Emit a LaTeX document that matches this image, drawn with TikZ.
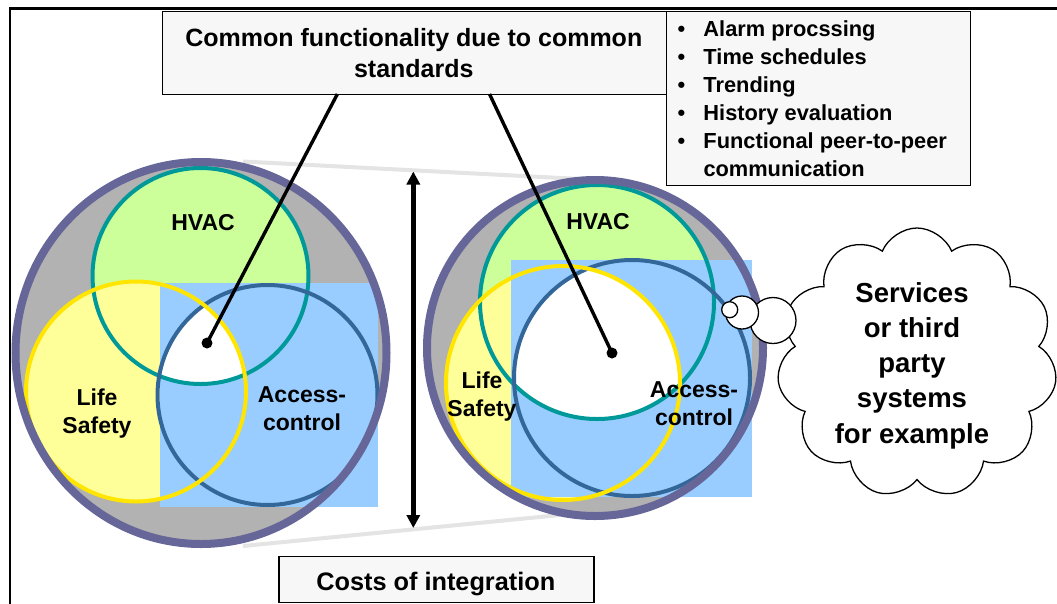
\documentclass[tikz,border=0pt]{standalone}
\usepackage{fontspec}
\setmainfont{Liberation Sans}
\usetikzlibrary{shapes.symbols,arrows.meta}

\definecolor{ringcol}{HTML}{666699}
\definecolor{shadecol}{HTML}{B2B2B2}
\definecolor{hvacline}{HTML}{009999}
\definecolor{hvacfill}{HTML}{CCFF99}
\definecolor{lifeline}{HTML}{FFE500}
\definecolor{lifefill}{HTML}{FFFF99}
\definecolor{accline}{HTML}{336699}
\definecolor{accfill}{HTML}{99CCFF}
\definecolor{boxfill}{HTML}{F7F7F7}
\definecolor{conecol}{HTML}{E4E4E4}

\begin{document}
\begin{tikzpicture}[x=1pt,y=-1pt,
  panel/.style={draw, line width=1.3pt, fill=boxfill, inner sep=0pt, anchor=north west},
  tag/.style={inner sep=0pt, anchor=base, align=center, font=\fontsize{23}{28.5}\selectfont\bfseries},
  pointer/.style={line width=3.4pt},
  dotmark/.style={circle, fill=black, minimum size=11pt, inner sep=0pt},
  ringline/.style={draw=ringcol, line width=8pt},
  setline/.style={line width=4pt},
  conex/.style={draw=conecol, line width=4pt},
  bubble/.style={circle, draw, fill=white, line width=1.3pt, inner sep=0pt}]
\useasboundingbox (0,0) rectangle (1057,603);

% frame
\draw[line width=2.6pt] (10,640) |- (1100,8.5);

% cone lines between the two set diagrams
\coordinate (coneTL) at (243,161.5);
\coordinate (coneTR) at (600,180);
\coordinate (coneBL) at (243,546);
\coordinate (coneBR) at (560,515);
\draw[conex] (coneTL) -- (coneTR);
\draw[conex] (coneBL) -- (coneBR);

% ---------- left set diagram ----------
\fill[shadecol] (201,353) ellipse [x radius=185.5, y radius=191];
\fill[hvacfill] (200.5,276) circle [radius=108];
\fill[lifefill] (136,391.5) circle [radius=110];
\fill[accfill] (160,283) rectangle (378,507);
\begin{scope}
  \clip (200.5,276) circle [radius=108];
  \clip (136,391.5) circle [radius=110];
  \fill[white] (267.5,395) circle [radius=110];
\end{scope}
\draw[setline, hvacline] (200.5,276) circle [radius=108];
\draw[setline, accline] (267.5,395) circle [radius=110];
\draw[setline, lifeline] (136,391.5) circle [radius=110];
\draw[ringline] (201,353) ellipse [x radius=185.5, y radius=191];

\node[tag] (hvacL) at (203,230) {HVAC};
\node[tag] (lifeL) at (97,405) {\begin{tabular}[t]{@{}c@{}}Life\\Safety\end{tabular}};
\node[tag] (accL) at (302,402) {\begin{tabular}[t]{@{}c@{}}Access-\\control\end{tabular}};

% ---------- right set diagram ----------
\fill[shadecol] (595,348) circle [radius=168];
\fill[hvacfill] (597,302) circle [radius=117];
\fill[lifefill] (563,383) circle [radius=117];
\fill[accfill] (511,260) rectangle (752,497);
\begin{scope}
  \clip (597,302) circle [radius=117];
  \clip (563,383) circle [radius=117];
  \fill[white] (632,378) circle [radius=118];
\end{scope}
\draw[setline, hvacline] (597,302) circle [radius=117];
\draw[setline, accline] (632,378) circle [radius=118];
\draw[setline, lifeline] (563,383) circle [radius=117];
\draw[ringline] (595,348) circle [radius=168];

\node[tag] (hvacR) at (598,229) {HVAC};
\node[tag] (lifeR) at (482,388) {\begin{tabular}[t]{@{}c@{}}Life\\Safety\end{tabular}};
\node[tag] (accR) at (694,397) {\begin{tabular}[t]{@{}c@{}}Access-\\control\end{tabular}};

% ---------- cost arrow ----------
\coordinate (costTop) at (413.3,171.5);
\coordinate (costBot) at (413.3,528);
\draw[line width=4.5pt, {Triangle[width=13pt,length=13pt]}-{Triangle[width=13pt,length=13pt]}] (costTop) -- (costBot);

% ---------- boxes ----------
\node[panel, minimum width=503.5pt, minimum height=83pt] (common) at (162,11) {};
\node[tag, font=\fontsize{25}{31.5}\selectfont\bfseries] (commonTxt) at (413.8,46.3)
  {\begin{tabular}[t]{@{}c@{}}Common functionality due to common\\standards\end{tabular}};

\node[panel, minimum width=304pt, minimum height=174pt] (features) at (666,11) {};
\node[inner sep=0pt, anchor=base west, font=\fontsize{21.8}{28}\selectfont\bfseries] (featTxt) at (677.5,36.7)
  {\begin{tabular}[t]{@{}l@{}l@{}}
   \makebox[25.8pt][l]{\textbullet} & Alarm procssing\\
   \makebox[25.8pt][l]{\textbullet} & Time schedules\\
   \makebox[25.8pt][l]{\textbullet} & Trending\\
   \makebox[25.8pt][l]{\textbullet} & History evaluation\\
   \makebox[25.8pt][l]{\textbullet} & Functional peer-to-peer\\
   & communication
   \end{tabular}};

\node[panel, minimum width=315pt, minimum height=46pt] (costs) at (278.3,555.7) {};
\node[tag, font=\fontsize{25.3}{30}\selectfont\bfseries] (costsTxt) at (435.8,590) {Costs of integration};

% ---------- pointers to the common core ----------
\node[dotmark] (coreL) at (207,343) {};
\node[dotmark] (coreR) at (612,353) {};
\coordinate (ptrL) at (337.4,94);
\coordinate (ptrR) at (489.5,94);
\draw[pointer] (ptrL) -- (coreL.center);
\draw[pointer] (ptrR) -- (coreR.center);

% ---------- thought cloud ----------
\node[cloud, draw, fill=white, line width=1.3pt, cloud puffs=11, cloud puff arc=135, aspect=1.05,
      minimum width=280pt, minimum height=270pt, inner sep=0pt] (cloud) at (917,363) {};
\node[tag, font=\fontsize{27.5}{35.3}\selectfont\bfseries] (cloudTxt) at (912,302)
  {\begin{tabular}[t]{@{}c@{}}Services\\or third\\party\\systems\\for example\end{tabular}};
\node[bubble, minimum size=46pt] (bub3) at (773,320.5) {};
\node[bubble, minimum size=33pt] (bub2) at (742,312.5) {};
\node[bubble, minimum size=16pt] (bub1) at (729.7,309.7) {};
\end{tikzpicture}
\end{document}
